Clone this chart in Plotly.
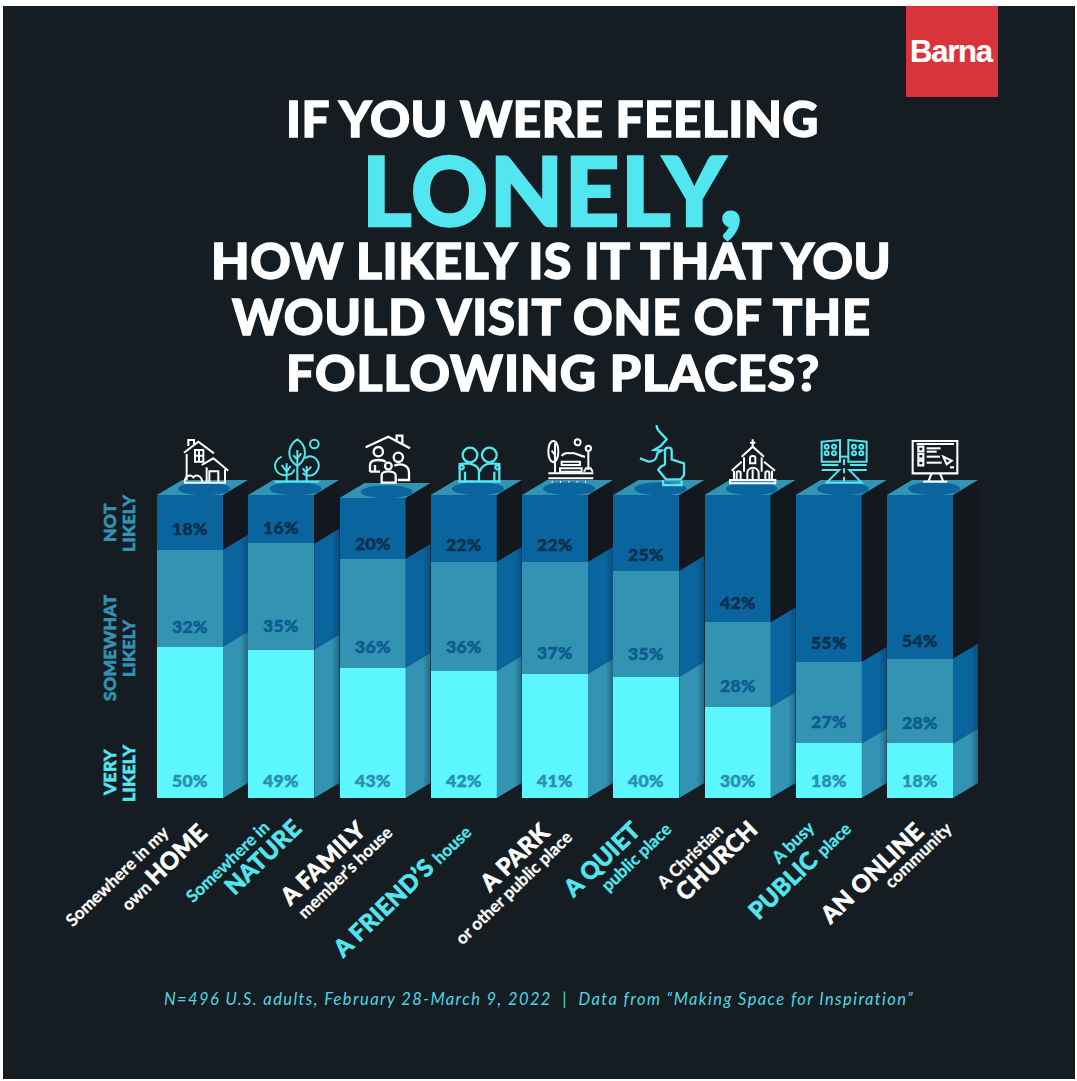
import re
import plotly.graph_objects as go

W, H = 1077, 1081

# Survey results, percent of respondents
places = ["Somewhere in my own home", "Somewhere in nature", "A family member's house",
          "A friend's house", "A park or other public place", "A quiet public place",
          "A Christian church", "A busy public place", "An online community"]
very_likely = [50, 49, 43, 42, 41, 40, 30, 18, 18]
somewhat_likely = [32, 35, 36, 36, 37, 35, 28, 27, 28]
not_likely = [18, 16, 20, 22, 22, 25, 42, 55, 54]

# Distance in pixels from the bottom of a segment up to its percent label
somewhat_lift = [20.5, 24.5, 21.7, 24.7, 21, 23.8, 22, 21.5, 20.5]
not_lift = [21, 15.5, 15.6, 16.7, 16.7, 16, 20, 19.6, 18.6]
very_lift = 18

BG = "#151d23"
CYAN = "#5cf6fe"
TEXT_CYAN = "#52e6f0"
TEAL = "#3293b3"
BLUE = "#0a649e"
SIDE_DARK = "#12181d"
WHITE = "#ffffff"
FONT = "Lato"

# Scale of the bar axes: pixels per category step and per percentage point
STEP = 91.25
UNIT = 3.03
X0_PX = 190
Y0_PX = 798
BAR_W = 66 / STEP
DX = 25 / STEP
DY = 15 / UNIT

fig = go.Figure()

for values, colour in [(very_likely, CYAN), (somewhat_likely, TEAL), (not_likely, BLUE)]:
    fig.add_bar(x=list(range(len(places))), y=values, width=BAR_W, marker=dict(color=colour, line_width=0),
                hoverinfo="skip", showlegend=False)


def extruded(x_pts, y_pts, fill=None, gradient=None):
    kw = dict(fillgradient=gradient) if gradient else dict(fillcolor=fill)
    fig.add_scatter(x=x_pts, y=y_pts, mode="lines", line=dict(width=0), fill="toself",
                    hoverinfo="skip", showlegend=False, **kw)


def fade(colour, end):
    return dict(type="horizontal", colorscale=[[0, colour], [0.7, colour], [1, end]])


def heavy(text, colour, stroke=0.0, spacing=0.0):
    """Thicken and track a run of text, since the installed faces stop short of the display weight."""
    return (f'<span style="stroke:{colour};stroke-width:{stroke}px;'
            f'letter-spacing:{spacing}px">{text}</span>')


shapes = []
annotations = []

# Full panel and logo block
shapes.append(dict(type="rect", xref="paper", yref="paper", x0=3 / W, x1=1075 / W,
                   y0=1 - 1079 / H, y1=1 - 6 / H, fillcolor=BG, line_width=0, layer="below"))
shapes.append(dict(type="rect", xref="paper", yref="paper", x0=906 / W, x1=998 / W,
                   y0=1 - 97 / H, y1=1 - 6 / H, fillcolor="#d9333c", line_width=0, layer="below"))

for i in range(len(places)):
    base = 0
    right = i + BAR_W / 2
    left = i - BAR_W / 2
    segs = [(very_likely[i], fade(TEAL, "#226a84")),
            (somewhat_likely[i], fade(BLUE, "#0a4f7d")),
            (not_likely[i], None)]
    for val, grad in segs:
        top = base + val
        xs = [right, right + DX, right + DX, right, right]
        ys = [base, base + DY, top + DY, top, base]
        if grad:
            extruded(xs, ys, gradient=grad)
        else:
            extruded(xs, ys, fill=SIDE_DARK)
        base = top
    # Top face of the column with its recessed ellipse
    extruded([left, right, right + DX, left + DX, left],
             [base, base, base + DY, base + DY, base], fill=TEAL)
    cx = i + DX / 2 + 0.018
    cy = base + DY / 2 - 0.4
    shapes.append(dict(type="circle", xref="x", yref="y", x0=cx - 26 / STEP, x1=cx + 26 / STEP,
                       y0=cy - 6.5 / UNIT, y1=cy + 6.5 / UNIT, fillcolor=BLUE, line_width=0))

    pct_font = dict(family=FONT, size=17.5, weight=900)
    pct = dict(xref="x", yref="y", x=i, showarrow=False, yanchor="middle")
    for y0, lift, value, colour in [(0, very_lift, very_likely[i], "#2a8fb0"),
                                    (very_likely[i], somewhat_lift[i], somewhat_likely[i], "#0d5b8f"),
                                    (very_likely[i] + somewhat_likely[i], not_lift[i], not_likely[i], "#0d2f4e")]:
        annotations.append(dict(pct, y=y0, yshift=lift, text=heavy(f"{value}%", colour, 0.5, 0.4),
                                font=dict(pct_font, color=colour)))


def text_at(x, y, text, size, color, weight=900, angle=0, italic=False):
    annotations.append(dict(xref="paper", yref="paper", x=x / W, y=1 - y / H, text=text, showarrow=False,
                            xanchor="center", yanchor="middle", textangle=angle,
                            font=dict(family=FONT, size=size, color=color, weight=weight,
                                      style="italic" if italic else "normal")))


# Headline
text_at(552, 118, heavy("IF YOU WERE FEELING", WHITE, 1.4, 0.5), 49.5, WHITE)
text_at(552.5, 188.5, heavy("LONELY,", TEXT_CYAN, 2.4, 1.6), 95, TEXT_CYAN)
text_at(551, 260, heavy("HOW LIKELY IS IT THAT YOU", WHITE, 1.4, 0.5), 50, WHITE)
text_at(551.5, 316, heavy("WOULD VISIT ONE OF THE", WHITE, 1.4, 0.85), 49, WHITE)
text_at(552.5, 372, heavy("FOLLOWING PLACES?", WHITE, 1.4, 0.95), 50, WHITE)

# Logo wordmark
text_at(952, 51, heavy("Barna", WHITE, 0.2, -1.2), 31, WHITE, weight=700)
annotations[-1]["font"]["family"] = "Liberation Sans"

# Scale captions down the left side
for cy, colour, top_line, low_line in [(523, TEAL, "NOT", "LIKELY"), (648, TEAL, "SOMEWHAT", "LIKELY"),
                                       (773, TEXT_CYAN, "VERY", "LIKELY")]:
    text_at(109, cy, heavy(top_line, colour, 0.6, 0.3), 17.5, colour, angle=-90)
    text_at(128, cy, heavy(low_line, colour, 0.6, 0.3), 17.5, colour, angle=-90)

# Slanted place names, one annotation per line
BIG = 23.5
SMALL = 17
ANGLE = -44


def small_run(text, colour):
    return f'<span style="font-size:{SMALL}px;stroke:{colour};stroke-width:0.3px">{text}</span>'


def big_run(text, colour):
    return f'<span style="font-size:{BIG}px;stroke:{colour};stroke-width:0.9px;letter-spacing:0.4px">{text}</span>'


slanted = [
    (116, 876, [("s", "Somewhere in my")], WHITE),
    (162, 867, [("s", "own "), ("b", "HOME")], WHITE),
    (227, 861, [("s", "Somewhere in")], TEXT_CYAN),
    (262, 857, [("b", "NATURE")], TEXT_CYAN),
    (322, 863, [("b", "A FAMILY")], WHITE),
    (344, 872, [("s", "member\u2019s house")], WHITE),
    (401, 890, [("b", "A FRIEND\u2019S "), ("s", "house")], TEXT_CYAN),
    (514, 857, [("b", "A PARK")], WHITE),
    (513, 887, [("s", "or other public place")], WHITE),
    (601, 859, [("b", "A QUIET")], TEXT_CYAN),
    (635, 857, [("s", "public place")], TEXT_CYAN),
    (689, 856, [("s", "A Christian")], WHITE),
    (716, 860, [("b", "CHURCH")], WHITE),
    (792, 842, [("s", "A busy")], TEXT_CYAN),
    (799, 869, [("b", "PUBLIC "), ("s", "place")], TEXT_CYAN),
    (871, 873, [("b", "AN ONLINE")], WHITE),
    (917, 855, [("s", "community")], WHITE),
]
for x, y, runs, colour in slanted:
    label = "".join(big_run(t, colour) if kind == "b" else small_run(t, colour) for kind, t in runs)
    text_at(x, y, label, SMALL, colour, weight=700, angle=ANGLE)

# Source line
FOOT = "#4fd6e2"
text_at(539, 999, heavy("N=496 U.S. adults, February 28-March 9, 2022&nbsp;&nbsp;|&nbsp;&nbsp;"
                        "Data from \u201cMaking Space for Inspiration\u201d", FOOT, 0, 1.4),
        16.5, FOOT, weight=400, italic=True)


# Outline icons above each column, written in thirds of a pixel from an origin
def add_icon(origin, colour, paths, circles=(), width=2.0):
    ox, oy = origin

    def to_paper(match):
        to_paper.n += 1
        v = float(match.group())
        if to_paper.n % 2:
            return f"{(ox + v / 3) / W:.5f}"
        return f"{1 - (oy + v / 3) / H:.5f}"

    for p in paths:
        to_paper.n = 0
        shapes.append(dict(type="path", xref="paper", yref="paper",
                           path=re.sub(r"-?\d+\.?\d*", to_paper, p),
                           line=dict(color=colour, width=width)))
    for cx, cy, r in circles:
        shapes.append(dict(type="circle", xref="paper", yref="paper",
                           x0=(ox + (cx - r) / 3) / W, x1=(ox + (cx + r) / 3) / W,
                           y0=1 - (oy + (cy + r) / 3) / H, y1=1 - (oy + (cy - r) / 3) / H,
                           line=dict(color=colour, width=width)))


# House
add_icon((170, 430), WHITE, [
    "M42,68 L85,35 L132,70", "M55,48 L55,30 L72,30 L72,42", "M50,72 L50,150",
    "M95,105 L130,85 L175,122", "M110,112 L110,158", "M165,118 L165,158",
    "M118,158 L118,124 L145,124 L145,158", "M42,158 L168,158",
    "M75,60 L100,60 L100,95 L75,95 Z M75,77 L100,77 M87,60 L87,95",
    "M45,158 C42,140 60,130 70,142 C80,130 98,140 96,158",
])
# Trees
add_icon((170, 430), TEXT_CYAN, [
    "M382,28 C355,45 345,85 382,108 C415,85 410,45 382,28 Z",
    "M335,80 C300,95 315,140 348,135 C362,135 372,128 372,118",
    "M405,85 C430,65 460,100 440,125 C430,140 410,140 398,130",
    "M315,155 L448,155", "M350,155 L350,100 M350,125 L335,105 M350,125 L362,108",
    "M382,155 L382,60 M382,90 L370,75 M382,85 L394,70",
    "M410,155 L410,108 M410,130 L398,115 M410,125 L424,110",
], circles=[(433, 42, 13)])
# Family under a roof
add_icon((355, 430), WHITE, [
    "M32,52 L100,20 L165,55", "M125,32 L125,17 L142,17 L142,42",
    "M45,125 L45,105 C45,95 55,90 70,90 C80,90 88,92 92,96",
    "M45,125 L75,125 M60,105 L60,125",
    "M118,108 C125,102 140,102 148,106 C158,110 162,118 162,128 L162,150 L128,150",
    "M80,158 L80,135 C80,128 90,124 100,124 C110,124 122,128 122,135 L122,158 Z",
], circles=[(70, 65, 14), (130, 82, 14), (100, 108, 10)], width=2.3)
# Two friends
add_icon((355, 430), TEXT_CYAN, [
    "M310,155 L437,155", "M314,155 L314,102 L335,100 C350,100 372,108 372,125 L372,155",
    "M375,125 C378,108 395,100 410,100 L433,102 L433,155",
    "M330,155 L330,125", "M418,155 L418,125",
], circles=[(345, 75, 22), (403, 75, 22), (320, 112, 6), (427, 112, 6)], width=2.3)
# Park bench scene
add_icon((530, 420), WHITE, [
    "M70,63 C50,63 50,125 70,127 C90,125 90,63 70,63 Z", "M75,70 L75,160 M75,105 L65,92",
    "M95,108 C105,95 115,100 122,100 C135,95 150,110 165,110",
    "M95,125 L150,125 L150,135 L95,135 Z", "M90,145 L155,145 L155,155 L90,155 Z",
    "M55,160 L190,160", "M55,175 L190,175", "M175,95 L175,150 M162,155 L168,145 L182,145 L188,155",
    "M65,185 L68,185 M90,185 L93,185 M115,185 L118,185 M140,185 L143,185 M165,185 L168,185",
], circles=[(143, 67, 9), (175, 85, 8)])
# Finger to the lips
add_icon((530, 420), TEXT_CYAN, [
    "M380,15 C378,30 395,40 410,58 L392,78 L372,90 L395,92 L382,100 C380,112 378,124 355,125 L330,115",
    "M405,135 L405,92 C405,80 425,80 425,92 L425,118 L445,125 L462,130 L462,165 L452,178 L408,178 L385,150 C388,142 398,135 405,135",
    "M398,180 L400,195 L455,195 L455,182",
], width=2.3)
# Church
add_icon((720, 430), WHITE, [
    "M98,28 L98,50 M90,38 L106,38", "M65,80 L98,50 L132,80", "M72,82 L72,125", "M125,82 L125,125",
    "M35,122 L65,95 M132,95 L165,122", "M42,122 L42,148 M156,122 L156,148",
    "M90,100 L90,85 C90,76 106,76 106,85 L106,100 Z", "M82,148 L82,130 C82,108 116,108 116,130 L116,148 M98,118 L98,148",
    "M50,148 L50,130 C50,122 62,122 62,130 L62,148", "M136,148 L136,130 C136,122 148,122 148,130 L148,148",
    "M30,150 L166,150 L166,160 L30,160 Z",
])
# Street between two buildings
add_icon((720, 430), TEXT_CYAN, [
    "M305,35 L360,30 L360,95 L305,95 Z", "M385,30 L440,35 L440,95 L385,95 Z",
    "M360,80 L385,80", "M305,105 L355,105 M390,105 L440,105",
    "M305,120 L358,120 L320,158 L425,158 L388,120 L440,120",
    "M372,88 L372,105 M372,115 L372,130 M372,140 L372,155",
], circles=[(320, 50, 6), (342, 50, 6), (320, 70, 6), (342, 70, 6),
            (402, 50, 6), (424, 50, 6), (402, 70, 6), (424, 70, 6)])
# Monitor
add_icon((720, 430), WHITE, [
    "M578,33 L712,33 L712,130 L578,130 Z", "M590,42 L702,42", "M690,112 L702,112",
    "M595,50 L610,50 L610,64 L595,64 Z", "M595,72 L610,72 L610,86 L595,86 Z",
    "M595,92 L610,92 L610,106 L595,106 Z", "M620,55 L662,55", "M620,65 L650,65",
    "M620,80 L660,80", "M620,98 L665,98", "M670,80 L695,92 L680,103 Z",
    "M635,130 L625,155 M660,130 L670,155", "M610,155 L682,155",
], width=2.1)

fig.update_layout(
    width=W, height=H, margin=dict(l=0, r=0, t=0, b=0), paper_bgcolor=WHITE, plot_bgcolor="rgba(0,0,0,0)",
    barmode="stack", bargap=0, showlegend=False, shapes=shapes, annotations=annotations,
    xaxis=dict(range=[-X0_PX / STEP, (W - X0_PX) / STEP], visible=False, fixedrange=True),
    yaxis=dict(range=[(Y0_PX - H) / UNIT, Y0_PX / UNIT], visible=False, fixedrange=True),
)

fig.write_html("out.html", config=dict(displayModeBar=False))
